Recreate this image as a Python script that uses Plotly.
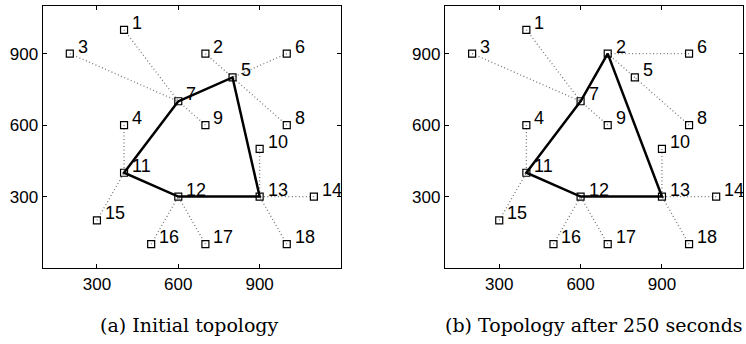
import plotly.graph_objects as go

node_ids = list(range(1, 19))
node_x = [400, 700, 200, 400, 800, 1000, 600, 1000, 700, 900, 400, 600, 900, 1100, 300, 500, 700, 1000]
node_y = [1000, 900, 900, 600, 800, 900, 700, 600, 600, 500, 400, 300, 300, 300, 200, 100, 100, 100]

# member -> cluster head links (dotted)
links_a = [(1, 7), (3, 7), (9, 7), (2, 5), (6, 5), (8, 5), (4, 11), (15, 11),
           (16, 12), (17, 12), (10, 13), (14, 13), (18, 13)]
links_b = [(1, 7), (3, 7), (9, 7), (5, 2), (6, 2), (8, 5), (4, 11), (15, 11),
           (16, 12), (17, 12), (10, 13), (14, 13), (18, 13)]
# backbone rings (solid)
ring_a = [7, 5, 13, 12, 11, 7]
ring_b = [7, 2, 13, 12, 11, 7]

captions = ["(a) Initial topology", "(b) Topology after 250 seconds"]
x_ticks = [300, 600, 900]
y_ticks = [300, 600, 900]

fig = go.Figure()
pos = {n: (x, y) for n, x, y in zip(node_ids, node_x, node_y)}

panels = [(links_a, ring_a, "x", "y"), (links_b, ring_b, "x2", "y2")]
for links, ring, xa, ya in panels:
    lx, ly = [], []
    for a, b in links:
        lx += [pos[a][0], pos[b][0], None]
        ly += [pos[a][1], pos[b][1], None]
    fig.add_trace(go.Scatter(x=lx, y=ly, mode="lines", xaxis=xa, yaxis=ya,
                             line=dict(color="#777777", width=1.3, dash="1px,2.5px"),
                             showlegend=False, hoverinfo="skip"))
    fig.add_trace(go.Scatter(x=[pos[n][0] for n in ring], y=[pos[n][1] for n in ring],
                             mode="lines", xaxis=xa, yaxis=ya,
                             line=dict(color="black", width=2.5),
                             showlegend=False, hoverinfo="skip"))
    fig.add_trace(go.Scatter(x=node_x, y=node_y, mode="markers", xaxis=xa, yaxis=ya,
                             marker=dict(symbol="square-open", size=7, color="black",
                                         line=dict(width=1.2, color="black")),
                             showlegend=False))
    for n, x, y in zip(node_ids, node_x, node_y):
        fig.add_annotation(x=x, y=y, xref=xa, yref=ya, text=str(n), showarrow=False,
                           xanchor="left", yanchor="middle", xshift=6, yshift=7,
                           font=dict(family="Liberation Sans", size=18, color="black"))

axis_common = dict(showline=True, linecolor="black", linewidth=1.3, mirror="ticks",
                   ticks="inside", ticklen=4, tickcolor="black", showgrid=False,
                   zeroline=False, tickfont=dict(family="Liberation Sans", size=17, color="black"))

fig.update_layout(
    width=746, height=344, margin=dict(l=0, r=0, t=0, b=0),
    paper_bgcolor="white", plot_bgcolor="white",
    xaxis=dict(domain=[42.7 / 746, 341 / 746], range=[100, 1200], tickvals=x_ticks, anchor="y", **axis_common),
    yaxis=dict(domain=[1 - 268 / 344, 1 - 6 / 344], range=[0, 1100], tickvals=y_ticks, anchor="x", **axis_common),
    xaxis2=dict(domain=[445 / 746, 743.3 / 746], range=[100, 1200], tickvals=x_ticks, anchor="y2", **axis_common),
    yaxis2=dict(domain=[1 - 268 / 344, 1 - 6 / 344], range=[0, 1100], tickvals=y_ticks, anchor="x2", **axis_common),
)

for cap, cx in zip(captions, [189 / 746, 594 / 746]):
    fig.add_annotation(x=cx, y=1 - 325 / 344, xref="paper", yref="paper", text=cap,
                       showarrow=False, xanchor="center", yanchor="middle",
                       font=dict(family="DejaVu Serif", size=19, color="black"))

fig.write_html("out.html")
